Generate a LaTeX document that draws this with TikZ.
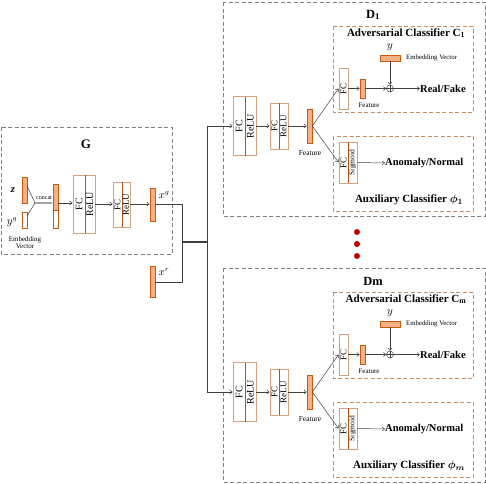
\documentclass[tikz,border=0pt]{standalone}
\usepackage{fontspec}
\setmainfont{Liberation Serif}
\usetikzlibrary{arrows.meta}
\definecolor{orf}{HTML}{F4B183}
\definecolor{orb}{HTML}{C55A11}
\definecolor{boxtan}{HTML}{D5A27F}
\definecolor{divb}{HTML}{B0521A}
\definecolor{dashbr}{HTML}{C98B62}
\definecolor{ln}{HTML}{404040}
\definecolor{dotred}{HTML}{C00000}
\newcommand\fsz[1]{\fontsize{#1}{#1}\selectfont}
% two-part box: name, cx, cy, w, h, split x, left text, right text, font size
\newcommand\twobox[9]{%
  \node[nnbox, minimum width=#4pt, minimum height=#5pt] (#1) at (#2,#3) {};
  \draw[divb, line width=0.8pt] (#6,{#3-#5/2}) -- (#6,{#3+#5/2});
  \node[lbl, font=\fsz{#9}] (#1-l) at ({(#2-#4/2+#6)/2},#3) {#7};
  \node[lbl, font=\fsz{#9}] (#1-r) at ({(#2+#4/2+#6)/2},#3) {#8};
}
% discriminator block: prefix, shift, title, C sub, phi sub
\newcommand\Dblock[5]{%
\begin{scope}[shift={(0,#2)}]
  \draw[bigdash] (223,2) rectangle (485,216);
  \node[font=\bfseries\fsz{12.5}] (#1title) at (373,15) {#3};
  \twobox{#1b1}{244.5}{126}{23}{59}{245}{FC}{ReLU}{10}
  \twobox{#1b2}{279}{126}{18}{46}{279}{FC}{ReLU}{9}
  \node[fbar, minimum height=34pt] (#1feat) at (309.5,126) {};
  \node[smalltxt, font=\fsz{7.5}] (#1featl) at (310,153) {Feature};
  \draw[arr] (#1b1.east) -- (#1b2.west);
  \draw[arr] (#1b2.east) -- (#1feat.west);
  % adversarial classifier
  \draw[cdash] (333,26) rectangle (473,112);
  \node[font=\bfseries\fsz{11}] (#1ctitle) at (406,33) {Adversarial Classifier C\textsubscript{#4}};
  \node[nnbox, minimum width=9pt, minimum height=41pt] (#1cfc) at (343.5,88.5) {};
  \node[lbl, font=\fsz{9}] (#1cfcl) at (343.5,88.5) {FC};
  \node[fbar, minimum height=19pt] (#1cfeat) at (362.5,88.5) {};
  \node[smalltxt, font=\fsz{7}] (#1cfeatl) at (369,105) {Feature};
  \node[fbar, minimum width=20pt, minimum height=6pt] (#1emb) at (390,58) {};
  \node[font=\itshape\fsz{10.5}, inner sep=0pt] (#1y) at (390,47.5) {$y$};
  \node[smalltxt, anchor=west, font=\fsz{6.8}] (#1embl) at (406,58) {Embedding Vector};
  \node[circle, draw=ln, line width=0.5pt, minimum size=7pt, inner sep=0pt] (#1op) at (390,88.5) {};
  \draw[conn] (#1op.north) -- (#1op.south) (#1op.west) -- (#1op.east);
  \node[font=\bfseries\fsz{10.5}, anchor=west, inner sep=0pt] (#1rf) at (420,88.5) {Real/Fake};
  \draw[arr] (#1cfc.east) -- (#1cfeat.west);
  \draw[arr] (#1cfeat.east) -- (#1op.west);
  \draw[arr] (#1emb.south) -- (#1op.north);
  \draw[arr] (#1op.east) -- (#1rf.west);
  % auxiliary classifier
  \draw[cdash] (333,136) rectangle (473,211);
  \twobox{#1afc}{348}{162.5}{18}{41}{348}{\fsz{9}FC}{Sigmoid}{7.5}
  \node[font=\bfseries\fsz{10.5}, anchor=west, inner sep=0pt] (#1an) at (385,163) {Anomaly/Normal};
  \draw[arr] (#1afc.east) -- (#1an.west);
  \node[font=\bfseries\boldmath\fsz{11}] (#1atitle) at (409,200) {Auxiliary Classifier $\phi_{#5}$};
  % feature fork
  \draw[arr] (#1feat.east) -- (#1cfc.west);
  \draw[arr] (#1feat.east) -- (#1afc.west);
\end{scope}}
\begin{document}
\begin{tikzpicture}[x=1pt,y=-1pt,
  fbar/.style={draw=orb, fill=orf, line width=0.6pt, inner sep=0pt, minimum width=5pt},
  wbar/.style={draw=orb, fill=white, line width=0.6pt, inner sep=0pt, minimum width=5pt},
  nnbox/.style={draw=boxtan, line width=0.9pt, inner sep=0pt},
  bigdash/.style={draw=gray, line width=0.6pt, dash pattern=on 4pt off 2.5pt},
  cdash/.style={draw=dashbr, line width=0.7pt, dash pattern=on 4pt off 2.5pt},
  conn/.style={draw=ln, line width=0.5pt},
  arr/.style={conn, -{Straight Barb[length=2.5pt,width=4pt]}},
  lbl/.style={rotate=90, inner sep=0pt},
  smalltxt/.style={inner sep=0pt}]
\useasboundingbox (0,0) rectangle (486,483);
% ---------------- Generator ----------------
\draw[bigdash] (1,127) rectangle (172,254);
\node[font=\bfseries\fsz{13}] (gtitle) at (86,144) {G};
\node[fbar, minimum height=26pt] (zb) at (24.5,190) {};
\node[wbar, minimum height=16pt] (ygb) at (24.5,220) {};
\node[font=\bfseries\itshape\fsz{10.5}] (zl) at (13,190) {z};
\node[font=\fsz{10.5}] (ygl) at (12,222) {$y^g$};
\node[smalltxt, font=\fsz{7}, align=center] (embl) at (25,242.5) {Embedding\\[0.5pt]Vector};
\coordinate (cv) at (35,203);
\draw[conn] (27,186) -- (cv);
\draw[conn] (27,216) -- (cv);
\node[fbar, minimum height=26pt] (cb1) at (55.5,197) {};
\node[wbar, minimum height=18pt] (cb2) at (55.5,219) {};
\draw[draw=gray!70, line width=1.1pt, -{Latex[length=3pt,width=3.5pt]}] (cv) -- (53,203);
\node[smalltxt, font=\fsz{6}] (concatl) at (44,198) {concat};
\twobox{gb1}{84}{204}{22}{58}{85}{FC}{ReLU}{10}
\twobox{gb2}{121.5}{204.5}{17}{45}{122}{FC}{ReLU}{9}
\node[fbar, minimum height=33pt] (xg) at (152.5,204.5) {};
\node[font=\fsz{10.5}] (xgl) at (164,195) {$x^g$};
\node[fbar, minimum height=31pt] (xr) at (152.5,281.5) {};
\node[font=\fsz{10.5}] (xrl) at (164,272) {$x^r$};
\draw[arr] (58,203) -- (gb1.west |- 0,203);
\draw[arr] (gb1.east |- 0,204) -- (gb2.west |- 0,204);
\draw[arr] (gb2.east |- 0,204) -- (xg.west |- 0,204);
\coordinate (ja) at (182,204);
\coordinate (jb) at (182,282);
\coordinate (j1) at (182,242);
\coordinate (j2) at (207,242);
\coordinate (vtop) at (207,126);
\coordinate (vbot) at (207,392);
\draw[conn] (xg.east |- ja) -- (ja) -- (jb) -- (xr.east |- jb);
\draw[draw=ln, line width=1.6pt] (j1) -- (j2);
\draw[conn] (vtop) -- (vbot);
% ---------------- Discriminators ----------------
\Dblock{da}{0}{D\textsubscript{1}}{1}{1}
\Dblock{dm}{266}{Dm}{m}{m}
\draw[arr] (vtop) -- (dab1.west);
\draw[arr] (vbot) -- (dmb1.west);
% dots
\fill[dotred] (357,232) circle (3pt);
\fill[dotred] (357,244) circle (3pt);
\fill[dotred] (357,256) circle (3pt);
\end{tikzpicture}
\end{document}
